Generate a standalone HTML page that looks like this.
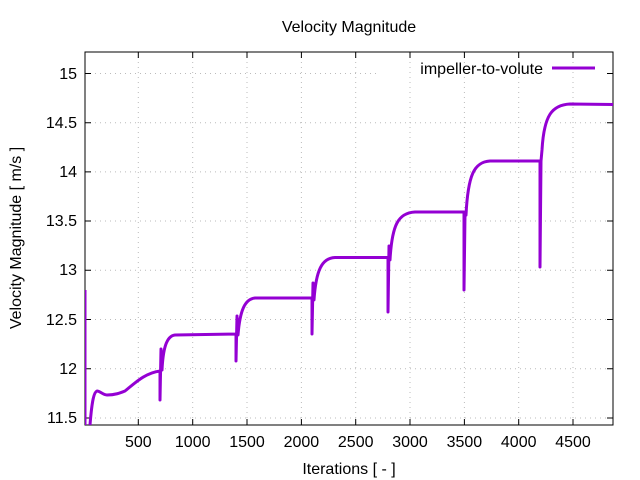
<!DOCTYPE html><html><head><style>body{margin:0;background:#fff}svg{display:block}text{font-family:"Liberation Sans",sans-serif;font-size:16px;fill:#000}</style></head><body>
<svg width="640" height="480" viewBox="0 0 640 480">
<g stroke="#bbb" stroke-width="1" stroke-dasharray="1,4">
<line x1="138.3" y1="52" x2="138.3" y2="425"/><line x1="192.7" y1="52" x2="192.7" y2="425"/><line x1="247" y1="52" x2="247" y2="425"/><line x1="301.4" y1="52" x2="301.4" y2="425"/><line x1="355.7" y1="52" x2="355.7" y2="425"/><line x1="410" y1="52" x2="410" y2="425"/><line x1="464.4" y1="52" x2="464.4" y2="425"/><line x1="518.7" y1="52" x2="518.7" y2="425"/><line x1="573" y1="52" x2="573" y2="425"/>
<line x1="85" y1="418" x2="613" y2="418"/><line x1="85" y1="368.7" x2="613" y2="368.7"/><line x1="85" y1="319.5" x2="613" y2="319.5"/><line x1="85" y1="270.3" x2="613" y2="270.3"/><line x1="85" y1="221" x2="613" y2="221"/><line x1="85" y1="171.9" x2="613" y2="171.9"/><line x1="85" y1="122.7" x2="613" y2="122.7"/><line x1="85" y1="73.5" x2="380" y2="73.5"/>
</g>
<rect x="85" y="52" width="528" height="373" fill="none" stroke="#000"/>
<g stroke="#000">
<path d="M138.3 425v-6M192.7 425v-6M247 425v-6M301.4 425v-6M355.7 425v-6M410 425v-6M464.4 425v-6M518.7 425v-6M573 425v-6M138.3 52v6M192.7 52v6M247 52v6M301.4 52v6M355.7 52v6M410 52v6M464.4 52v6M518.7 52v6M573 52v6"/>
<path d="M85 418h6M85 368.7h6M85 319.5h6M85 270.3h6M85 221h6M85 171.9h6M85 122.7h6M85 73.5h6M613 418h-6M613 368.7h-6M613 319.5h-6M613 270.3h-6M613 221h-6M613 171.9h-6M613 122.7h-6M613 73.5h-6"/>
</g>
<g text-anchor="end">
<text x="77" y="423">11.5</text><text x="77" y="374">12</text><text x="77" y="325">12.5</text><text x="77" y="275">13</text><text x="77" y="226">13.5</text><text x="77" y="177">14</text><text x="77" y="128">14.5</text><text x="77" y="79">15</text>
</g>
<g text-anchor="middle">
<text x="138.3" y="447">500</text><text x="192.7" y="447">1000</text><text x="247" y="447">1500</text><text x="301.4" y="447">2000</text><text x="355.7" y="447">2500</text><text x="410" y="447">3000</text><text x="464.4" y="447">3500</text><text x="518.7" y="447">4000</text><text x="573" y="447">4500</text>
<text x="349" y="32">Velocity Magnitude</text>
<text x="349" y="474">Iterations [ - ]</text>
<text transform="translate(21,238) rotate(-90)">Velocity Magnitude [ m/s ]</text>
</g>
<text x="543" y="74" text-anchor="end">impeller-to-volute</text>
<line x1="552" y1="68" x2="595" y2="68" stroke="#9400d3" stroke-width="3"/>
<svg x="85" y="52" width="528" height="373" viewBox="85 52 528 373" overflow="hidden">
<path fill="none" stroke="#9400d3" stroke-width="3" stroke-linejoin="round" d="M85,290 L85,425 M90,425 C92,400 94,392 97,391 C100,391 103,395 107,395 C115,395 120,393 125,391 C135,383 145,373 160,371 L160,400 L161,349 L162,370 C163,350 166,336 175,335 L236,334 L236,361 L237,316 L238,335 C240,310 245,299 255,298 L312,298 L312,334 L313,283 L314,300 C316,270 322,258 335,257.5 L388,257.5 L388,312 L389,246 L390,260 C392,225 398,213 415,212 L464,212 L464,290 L465,215 L466,215 C468,175 474,162 490,161 L540,161 L540,267 L541,161 L542,150 C544,115 552,105 570,104 L613,104.5"/>
</svg>
</svg></body></html>
